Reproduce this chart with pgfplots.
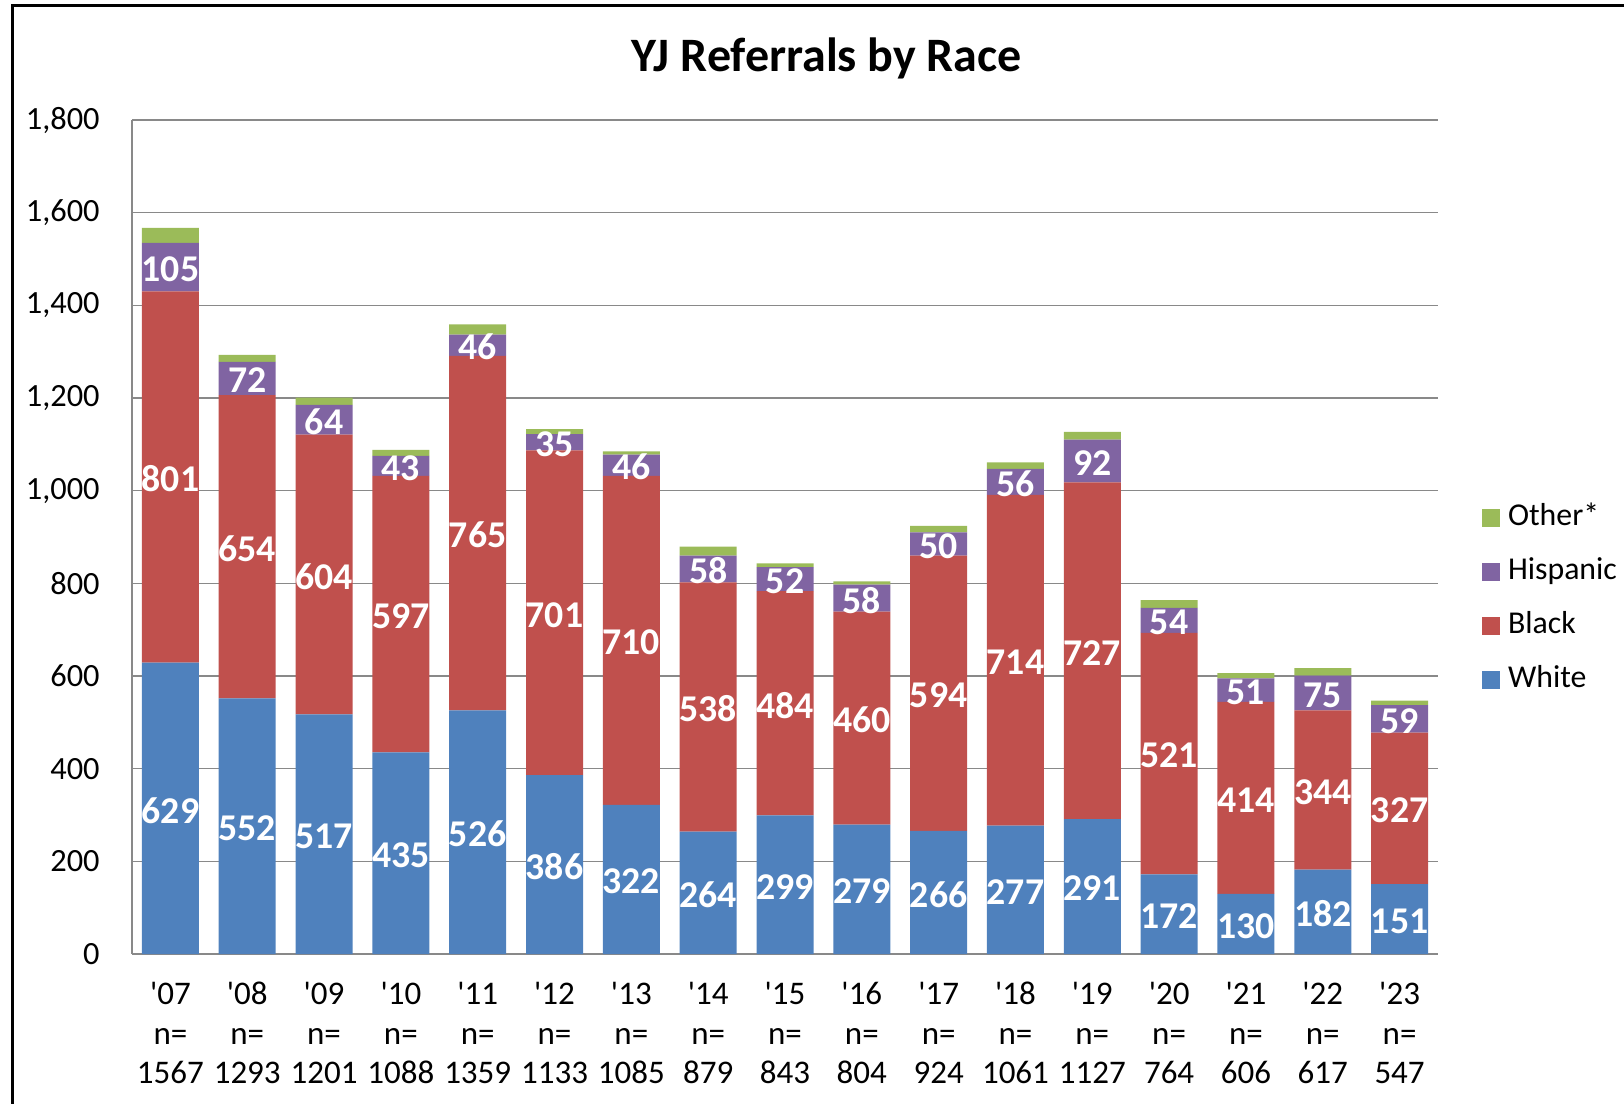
\documentclass[border=0pt]{standalone}
\usepackage{fontspec}
\setmainfont{Carlito}[Ligatures=TeXOff]
\usepackage{pgfplots}
\usepackage{pgfplotstable}
\pgfplotsset{compat=1.18}
\definecolor{cWhite}{HTML}{4F81BD}
\definecolor{cBlack}{HTML}{C0504D}
\definecolor{cHisp}{HTML}{8064A2}
\definecolor{cOther}{HTML}{9BBB59}
\definecolor{gridc}{HTML}{898989}

\pgfplotstableread{
x white black hisp other
0 629 801 105 32
1 552 654 72 15
2 517 604 64 16
3 435 597 43 13
4 526 765 46 22
5 386 701 35 11
6 322 710 46 7
7 264 538 58 19
8 299 484 52 8
9 279 460 58 7
10 266 594 50 14
11 277 714 56 14
12 291 727 92 17
13 172 521 54 17
14 130 414 51 11
15 182 344 75 16
16 151 327 59 10
}\datatable

\pgfplotsset{common/.style={
  at={(66pt,-60pt)}, anchor=north west,
  scale only axis, width=653pt, height=417pt,
  xmin=-0.5, xmax=16.5, ymin=0, ymax=1800,
}}

\begin{document}
\begin{tikzpicture}
\useasboundingbox (0pt,0pt) rectangle (812pt,-552pt);
\draw[line width=1.5pt] (6.25pt,-560pt) -- (6.25pt,-2.75pt) -- (820pt,-2.75pt);
\begin{axis}[common,
  ybar stacked, bar width=0.742,
  axis x line*=bottom, axis y line*=left,
  axis line style={draw=gridc, line width=1pt, -},
  ymajorgrids, grid style={draw=gridc, line width=0.8pt},
  ytick={0,200,...,1800},
  major tick length=0pt,
  xtick={0,...,16},
  xticklabels={{'07\\n=\\1567},{'08\\n=\\1293},{'09\\n=\\1201},{'10\\n=\\1088},{'11\\n=\\1359},{'12\\n=\\1133},{'13\\n=\\1085},{'14\\n=\\879},{'15\\n=\\843},{'16\\n=\\804},{'17\\n=\\924},{'18\\n=\\1061},{'19\\n=\\1127},{'20\\n=\\764},{'21\\n=\\606},{'22\\n=\\617},{'23\\n=\\547}},
  xticklabel style={anchor=north, inner sep=0pt, yshift=-14pt, align=center, font=\fontsize{16.5}{19.7}\selectfont},
  yticklabel style={anchor=east, inner sep=0pt, xshift=-16pt, font=\fontsize{16.2}{19}\selectfont},
  /pgf/number format/1000 sep={,},
  /pgf/number format/assume math mode=true,
  title={YJ Referrals by Race},
  title style={at={(axis description cs:0.532,1.060)}, anchor=center, font=\fontsize{24}{28}\bfseries\selectfont},
  legend image code/.code={\fill[#1] (0pt,-4.5pt) rectangle (9pt,4.5pt);},
  reverse legend,
  legend cell align=left,
  legend style={at={(axis description cs:1.0337,0.5408)}, anchor=north west, draw=none, fill=none,
    font=\fontsize{15.9}{18}\selectfont, inner sep=0pt, row sep=12.9pt,
    nodes={inner sep=0pt, text height=11pt, text depth=3.2pt},
    /tikz/every odd column/.append style={column sep=3.8pt}},
]
\addplot[fill=cWhite, draw=none] table[x=x, y=white]{\datatable};
\addplot[fill=cBlack, draw=none] table[x=x, y=black]{\datatable};
\addplot[fill=cHisp, draw=none] table[x=x, y=hisp]{\datatable};
\addplot[fill=cOther, draw=none] table[x=x, y=other]{\datatable};
\legend{White,Black,Hispanic,Other*}
\end{axis}
\begin{axis}[common, hide axis,
  nodes near coords, point meta=explicit,
  /pgf/number format/assume math mode=true,
  every node near coord/.append style={anchor=center, text=white, inner sep=0pt, yshift=-1pt, font=\fontsize{18.9}{21}\bfseries\selectfont},
]
\addplot[draw=none] table[x=x, y expr=\thisrow{white}/2, meta=white]{\datatable};
\addplot[draw=none] table[x=x, y expr=\thisrow{white}+\thisrow{black}/2, meta=black]{\datatable};
\addplot[draw=none] table[x=x, y expr=\thisrow{white}+\thisrow{black}+\thisrow{hisp}/2, meta=hisp]{\datatable};
\end{axis}
\end{tikzpicture}
\end{document}
